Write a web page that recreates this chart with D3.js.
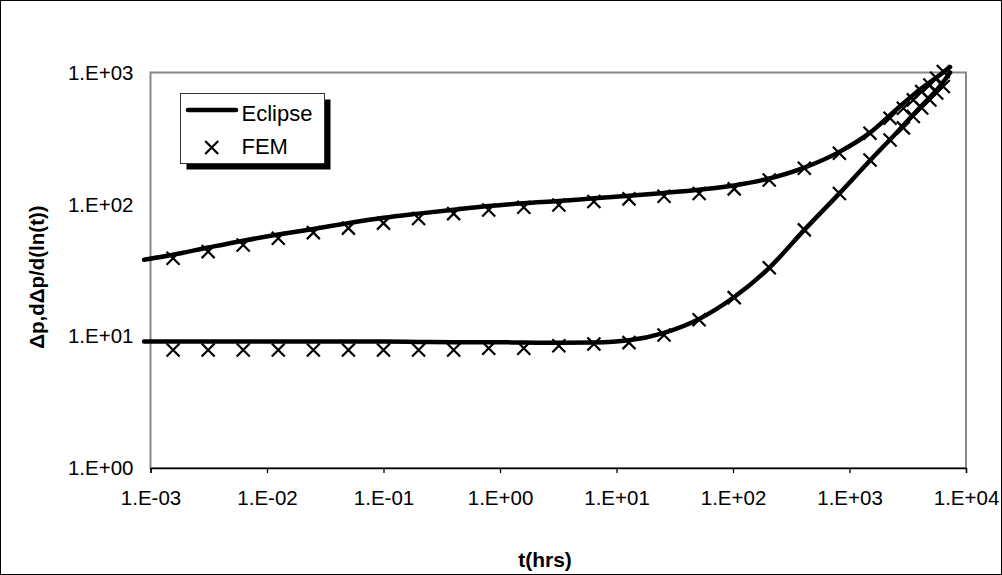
<!DOCTYPE html>
<html>
<head>
<meta charset="utf-8">
<script src="https://cdn.jsdelivr.net/npm/d3@7/dist/d3.min.js"></script>
<style>
  html, body { margin: 0; padding: 0; background: #fff; }
  svg { display: block; font-family: "Liberation Sans", Arial, sans-serif; }
</style>
</head>
<body>
<svg id="chart" width="1002" height="575"></svg>
<script>
// Simulated (Eclipse) pressure and derivative curves, t in hours
const eclipseT = [0.00088, 0.0015625, 0.003125, 0.00625, 0.0125, 0.025, 0.05, 0.1, 0.2, 0.4, 0.8, 1.6, 3.2, 6.4, 12.8, 25.6, 51.2, 102.4, 204.8, 409.6, 819.2, 1500, 2500, 4000, 6000, 7300];
const eclipsePressure = [38, 41.5, 47, 53, 59, 65, 72, 79, 85, 91, 97, 102, 106, 111, 116, 122, 129, 139, 157, 190, 250, 350, 520, 740, 960, 1100];
const eclipseDerivative = [9.1, 9.1, 9.1, 9.1, 9.1, 9.1, 9.1, 9.1, 9.05, 9.0, 9.0, 8.95, 8.9, 8.95, 9.3, 10.6, 13.5, 19.8, 33, 64, 121, 215, 345, 540, 790, 1000];

// Finite-element (FEM) results
const femT = [0.0015625, 0.003125, 0.00625, 0.0125, 0.025, 0.05, 0.1, 0.2, 0.4, 0.8, 1.6, 3.2, 6.4, 12.8, 25.6, 51.2, 102.4, 204.8, 409.6, 819.2, 1500, 2230, 2900, 3530, 4170, 4900, 5600, 6380];
const femPressure = [39.0, 43.8, 49.2, 55.3, 61.0, 66, 72, 78, 85, 90.7, 95.1, 99, 105, 110, 115, 121, 131, 153, 188, 244, 346, 450, 536, 620, 716, 805, 905, 1016];
const femDerivative = [7.86, 7.86, 7.86, 7.86, 7.86, 7.86, 7.86, 7.86, 7.86, 8.09, 8.09, 8.47, 8.73, 8.93, 10.2, 13.3, 19.6, 33, 64, 121, 217, 308, 380, 463, 538, 619, 700, 782];

const xTicks = [1e-3, 1e-2, 1e-1, 1e0, 1e1, 1e2, 1e3, 1e4];
const xTickLabels = ["1.E-03", "1.E-02", "1.E-01", "1.E+00", "1.E+01", "1.E+02", "1.E+03", "1.E+04"];
const yTicks = [1, 10, 100, 1000];
const yTickLabels = ["1.E+00", "1.E+01", "1.E+02", "1.E+03"];

const seriesNames = ["Eclipse", "FEM"];
const xTitle = "t(hrs)";
const yTitle = "\u0394p,d\u0394p/d(ln(t))";

const svg = d3.select("#chart");
const W = 1002, H = 575;
const plot = { left: 150.5, top: 72.5, right: 966, bottom: 468 };

const x = d3.scaleLog().domain([1e-3, 1e4]).range([plot.left, plot.right]);
const y = d3.scaleLog().domain([1, 1000]).range([plot.bottom, plot.top]);

svg.append("rect").attr("width", W).attr("height", H).attr("fill", "#fff");

// outer chart frame
svg.append("rect")
  .attr("x", 0.5).attr("y", 0.5).attr("width", W - 1).attr("height", H - 1)
  .attr("fill", "none").attr("stroke", "#000").attr("stroke-width", 1);

// plot area border
svg.append("rect")
  .attr("x", plot.left).attr("y", plot.top)
  .attr("width", plot.right - plot.left).attr("height", plot.bottom - plot.top)
  .attr("fill", "none").attr("stroke", "#888").attr("stroke-width", 2);

// x axis
const xAxis = d3.axisBottom(x)
  .tickValues(xTicks)
  .tickSize(5)
  .tickFormat((d, i) => xTickLabels[i]);
const gx = svg.append("g").attr("transform", `translate(0,${plot.bottom})`).call(xAxis);
gx.select(".domain").attr("stroke", "#000").attr("stroke-width", 1.3);
gx.selectAll(".tick line").attr("stroke", "#000").attr("stroke-width", 1.3);
gx.selectAll(".tick text")
  .attr("y", 37).attr("dy", 0)
  .attr("font-size", "20.5px").attr("fill", "#000")
  .attr("font-family", "Liberation Sans, Arial, sans-serif");

// y axis (labels only)
const yAxis = d3.axisLeft(y)
  .tickValues(yTicks)
  .tickSize(0)
  .tickPadding(17)
  .tickFormat((d, i) => yTickLabels[i]);
const gy = svg.append("g").attr("transform", `translate(${plot.left},0)`).call(yAxis);
gy.select(".domain").remove();
gy.selectAll(".tick text")
  .attr("dy", "0.33em")
  .attr("font-size", "20.5px").attr("fill", "#000")
  .attr("font-family", "Liberation Sans, Arial, sans-serif");

// axis titles
svg.append("text")
  .attr("x", 545).attr("y", 567)
  .attr("text-anchor", "middle")
  .attr("font-weight", "bold").attr("font-size", "21px")
  .text(xTitle);

svg.append("text")
  .attr("transform", `translate(44,277) rotate(-90)`)
  .attr("text-anchor", "middle")
  .attr("font-weight", "bold").attr("font-size", "20.5px")
  .text(yTitle);

// Eclipse curves
const line = d3.line()
  .x(d => x(d[0]))
  .y(d => y(d[1]))
  .curve(d3.curveMonotoneX);

[eclipsePressure, eclipseDerivative].forEach(vals => {
  svg.append("path")
    .datum(eclipseT.map((t, i) => [t, vals[i]]))
    .attr("d", line)
    .attr("fill", "none")
    .attr("stroke", "#000")
    .attr("stroke-width", 4.5)
    .attr("stroke-linecap", "round")
    .attr("stroke-linejoin", "round");
});

// FEM markers
function cross(g, cx, cy, r) {
  g.append("path")
    .attr("d", `M${cx - r},${cy - r}L${cx + r},${cy + r}M${cx - r},${cy + r}L${cx + r},${cy - r}`)
    .attr("stroke", "#000").attr("stroke-width", 2.2).attr("fill", "none");
}
const gm = svg.append("g");
[femPressure, femDerivative].forEach(vals => {
  femT.forEach((t, i) => cross(gm, x(t), y(vals[i]), 6.5));
});

// legend
const lg = svg.append("g");
lg.append("rect").attr("x", 186.5).attr("y", 99.5).attr("width", 144).attr("height", 70).attr("fill", "#000");
lg.append("rect").attr("x", 180.5).attr("y", 93.5).attr("width", 144).attr("height", 70)
  .attr("fill", "#fff").attr("stroke", "#333").attr("stroke-width", 1);
lg.append("line").attr("x1", 188).attr("x2", 236).attr("y1", 110).attr("y2", 110)
  .attr("stroke", "#000").attr("stroke-width", 4.5).attr("stroke-linecap", "round");
lg.append("text").attr("x", 241.5).attr("y", 120.7).attr("font-size", "22px").text(seriesNames[0]);
cross(lg, 211.7, 147.5, 6.5);
lg.append("text").attr("x", 241.5).attr("y", 154).attr("font-size", "22px").text(seriesNames[1]);
</script>
</body>
</html>
